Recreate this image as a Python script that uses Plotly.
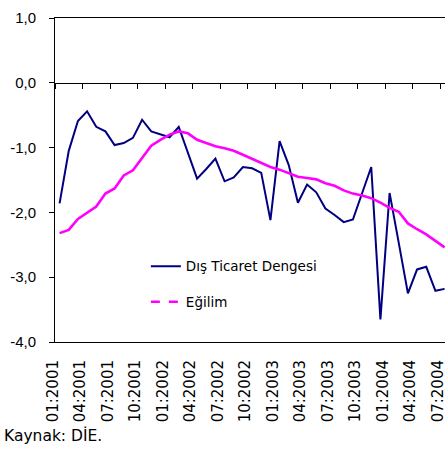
import plotly.graph_objects as go

months = [f"{m:02d}:{y}" for y in (2001, 2002, 2003, 2004) for m in range(1, 13)][:43]

dis_ticaret = [-1.86, -1.05, -0.59, -0.44, -0.68, -0.75, -0.96, -0.93, -0.85, -0.57,
               -0.75, -0.80, -0.84, -0.68, -1.08, -1.48, -1.33, -1.17, -1.52, -1.46,
               -1.30, -1.32, -1.39, -2.12, -0.90, -1.27, -1.85, -1.57, -1.69, -1.94,
               -2.04, -2.15, -2.11, -1.70, -1.30, -3.65, -1.70, -2.47, -3.25, -2.88,
               -2.84, -3.21, -3.18]

egilim = [-2.32, -2.27, -2.10, -2.01, -1.91, -1.71, -1.63, -1.43, -1.35, -1.16,
          -0.97, -0.88, -0.80, -0.75, -0.78, -0.88, -0.93, -0.98, -1.01, -1.05,
          -1.11, -1.17, -1.24, -1.30, -1.34, -1.40, -1.45, -1.47, -1.49, -1.55,
          -1.59, -1.66, -1.71, -1.74, -1.78, -1.85, -1.93, -1.99, -2.17, -2.26,
          -2.34, -2.44, -2.54]

y_ticks = [1, 0, -1, -2, -3, -4]
y_tick_text = ["1,0", "0,0", "-1,0", "-2,0", "-3,0", "-4,0"]

idx = list(range(len(months)))
label_idx = idx[::3]
boundary = [i - 0.5 for i in label_idx]

NAVY = "#000080"
MAG = "#FF00FF"
XR = [-0.5, 42.045]

fig = go.Figure()
fig.add_trace(go.Scatter(x=idx, y=dis_ticaret, mode="lines", name="Dış Ticaret Dengesi",
                         line=dict(color=NAVY, width=2), legendgroup="a", hoverinfo="skip"))
fig.add_trace(go.Scatter(x=[None], y=[None], mode="lines", name="Eğilim",
                         line=dict(color=MAG, width=2.5, dash="dash"), legendgroup="b"))
fig.add_trace(go.Scatter(x=idx, y=egilim, mode="lines", name="Eğilim", showlegend=False,
                         line=dict(color=MAG, width=2.6), hoverinfo="skip"))
fig.add_trace(go.Scatter(x=[0], y=[None], xaxis="x2", yaxis="y", showlegend=False,
                         mode="lines", hoverinfo="skip"))

fig.update_layout(
    width=445, height=452,
    margin=dict(l=55, r=0, t=18, b=110, autoexpand=False),
    paper_bgcolor="white", plot_bgcolor="white",
    showlegend=True,
    legend=dict(x=0.233, y=0.281, xanchor="left", yanchor="top",
                bgcolor="rgba(0,0,0,0)", borderwidth=0,
                traceorder="grouped", tracegroupgap=15,
                font=dict(family="DejaVu Sans", size=13.5, color="black")),
    xaxis=dict(range=XR, anchor="free", position=0.8, showgrid=False, zeroline=False,
               automargin=False,
               showline=True, linecolor="black", linewidth=1,
               ticks="outside", ticklen=5, tickcolor="black", tickwidth=1,
               tickvals=boundary, showticklabels=False),
    xaxis2=dict(range=XR, overlaying="x", anchor="y", side="bottom",
                showgrid=False, zeroline=False, automargin=False,
                showline=True, mirror=True, linecolor="black", linewidth=1,
                ticks="", tickvals=boundary, ticktext=[months[i] for i in label_idx],
                tickangle=-90, ticklabelstandoff=11, ticklabeloverflow="allow",
                ticklabelshift=-2,
                tickfont=dict(family="DejaVu Sans", size=15, color="black")),
    yaxis=dict(range=[-4, 1], showgrid=False, zeroline=False, automargin=False,
               showline=True, linecolor="black", linewidth=1,
               ticks="outside", ticklen=5, tickcolor="black",
               tickvals=y_ticks, ticktext=y_tick_text, ticklabelstandoff=10,
               tickfont=dict(family="Liberation Sans", size=15, color="black")),
    annotations=[dict(text="Kaynak: DİE.", xref="paper", yref="paper",
                      x=-0.136, y=-0.2877, xanchor="left", yanchor="middle",
                      showarrow=False,
                      font=dict(family="DejaVu Sans", size=15.5, color="black"))],
)

fig.write_html("out.html", config={"displayModeBar": False},
               post_script="document.body.style.margin='0';")
